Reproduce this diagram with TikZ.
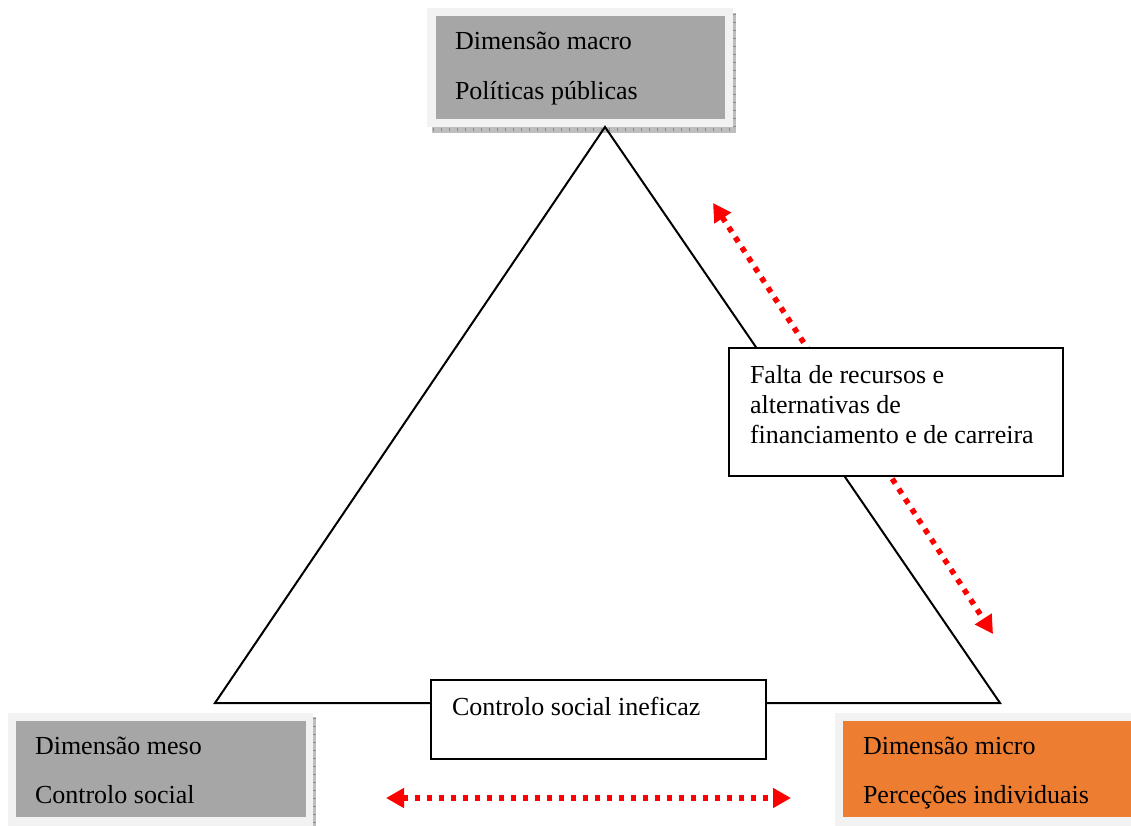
\documentclass[tikz,border=0pt]{standalone}
\usepackage{fontspec}
\setmainfont{Liberation Serif}
\usetikzlibrary{arrows.meta}
\definecolor{framegray}{RGB}{242,242,242}
\definecolor{boxgray}{RGB}{166,166,166}
\definecolor{microorange}{RGB}{237,125,49}
\definecolor{shadowgray}{RGB}{190,190,190}
\definecolor{shadowtick}{RGB}{140,140,140}
\begin{document}
\begin{tikzpicture}[x=1pt,y=-1pt,
  every node/.style={inner sep=0pt, outer sep=0pt},
  txt/.style={anchor=base west, font=\fontsize{26}{30}\selectfont},
  framebox/.style={fill=framegray, draw=none},
  shadowstrip/.style={fill=shadowgray, draw=none},
  shadowticks/.style={draw=shadowtick, line width=3pt, dash pattern=on 1pt off 7pt},
  plainbox/.style={draw=black, fill=white, line width=2pt, anchor=north west},
  redarrow/.style={draw=red, line width=5.5pt, dash pattern=on 5.5pt off 6.5pt,
    {Triangle[length=18pt,width=19pt]}-{Triangle[length=18pt,width=19pt]}},
  triline/.style={draw=black, line width=2pt, line join=miter}
]
\useasboundingbox (0,0) rectangle (1131,826);

% --- macro dimension box (top) ---
\fill[shadowstrip] (733,13) rectangle (736,133);
\fill[shadowstrip] (432,127) rectangle (736,133);
\draw[shadowticks] (734.5,14) -- (734.5,133);
\draw[shadowticks] (433,130) -- (736,130);
\fill[framebox] (427,8) rectangle (733,127);
\node[fill=boxgray, minimum width=289pt, minimum height=103pt, anchor=north west] (macro) at (436,16) {};
\node[txt] (macro1) at (455,50) {Dimensão macro};
\node[txt] (macro2) at (455,100) {Políticas públicas};

% --- meso dimension box (bottom left) ---
\fill[shadowstrip] (313,717) rectangle (316,826);
\draw[shadowticks] (314.5,718) -- (314.5,826);
\fill[framebox] (8,713) rectangle (313,830);
\node[fill=boxgray, minimum width=290pt, minimum height=96pt, anchor=north west] (meso) at (16,721) {};
\node[txt] (meso1) at (35,754) {Dimensão meso};
\node[txt] (meso2) at (35,803) {Controlo social};

% --- micro dimension box (bottom right) ---
\fill[framebox] (835,713) rectangle (1140,830);
\node[fill=microorange, minimum width=300pt, minimum height=96pt, anchor=north west] (micro) at (843,721) {};
\node[txt] (micro1) at (863,754) {Dimensão micro};
\node[txt] (micro2) at (863,803) {Perceções individuais};

% --- triangle joining the three dimensions ---
\coordinate (apex) at (605,127);
\coordinate (left) at (215,703);
\coordinate (right) at (1000,703);
\draw[triline] (apex) -- (left) -- (right) -- cycle;

% --- red dotted two-way arrows ---
\coordinate (upTip) at (713,203);
\coordinate (downTip) at (993,634);
\draw[redarrow] (upTip) -- (downTip);
\coordinate (leftTip) at (386,798);
\coordinate (rightTip) at (791,798);
\draw[redarrow] (leftTip) -- (rightTip);

% --- annotation boxes ---
\node[plainbox, minimum width=334pt, minimum height=128pt] (falta) at (729,348) {};
\node[txt] (falta1) at (750,383) {Falta de recursos e};
\node[txt] (falta2) at (750,413) {alternativas de};
\node[txt] (falta3) at (750,443) {financiamento e de carreira};

\node[plainbox, minimum width=335pt, minimum height=79pt] (controlo) at (431,680) {};
\node[txt] (controlo1) at (452,715) {Controlo social ineficaz};
\end{tikzpicture}
\end{document}
